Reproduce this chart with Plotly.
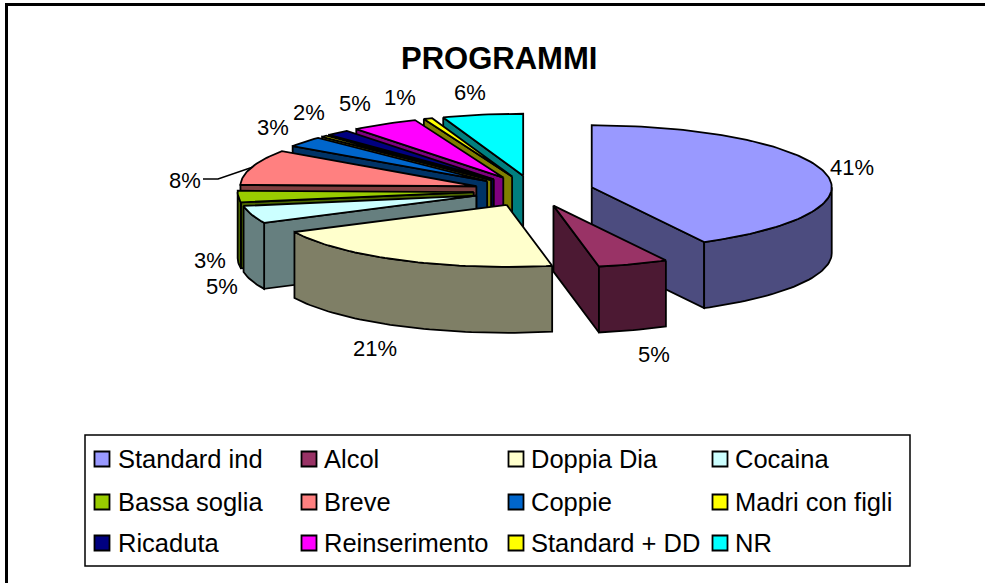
import math
import plotly.graph_objects as go

# ---- data ----
categories = ["Standard ind", "Alcol", "Doppia Dia", "Cocaina", "Bassa soglia", "Breve",
              "Coppie", "Madri con figli", "Ricaduta", "Reinserimento", "Standard + DD", "NR"]
values = [41.4, 5.0, 20.7, 5.0, 3.2, 8.49, 3.49, 0.4, 1.6, 4.6, 0.6, 5.5]
pct_labels = ["41%", "5%", "21%", "5%", "3%", "8%", "3%", "", "2%", "5%", "1%", "6%"]
top_colors = ["#9999FF", "#993366", "#FFFFCC", "#CCFFFF", "#99CC00", "#FF8080",
              "#0066CC", "#FFFF00", "#000080", "#FF00FF", "#FFFF00", "#00FFFF"]
side_colors = ["#4C4C7F", "#4C1933", "#7F7F66", "#667F7F", "#4C6600", "#7F4040",
               "#003366", "#7F7F00", "#000040", "#7F007F", "#7F7F00", "#007F7F"]
title_text = "PROGRAMMI"

# ---- layout (pixel-like axis space) ----
W, H = 985, 583
CX, CY = 533.5, 191
RX_RIGHT, RX_LEFT, RY = 240, 236, 62
DEPTH = 66
EXPLODE = 0.25
LINE = dict(color="black", width=1.8)
# small angular correction imitating the 3-D perspective of the original
WARP = [(0, 0), (90, 0), (149, 3), (167, 2), (241, 2.5), (270, 0), (304, 3), (314, 0), (360, 0)]

label_xy = [(852, 167), (654, 354), (375, 348), (222, 286), (210, 260), (185, 180),
            (273, 127), None, (309, 112), (355, 103), (400, 97), (470, 92)]
legend_cols = [(102, 116), (309, 322), (516, 529), (720, 733)]
legend_rows = [459, 502, 543]

fig = go.Figure()


def warp(t):
    for (a, wa), (b, wb) in zip(WARP, WARP[1:]):
        if a <= t <= b:
            return t + wa + (wb - wa) * (t - a) / (b - a)
    return t


def px_of(cx, cy, t):
    s = math.sin(math.radians(t))
    rx = RX_RIGHT if s >= 0 else RX_LEFT
    return cx + rx * s, cy - RY * math.cos(math.radians(t))


def poly(xs, ys, color):
    fig.add_trace(go.Scatter(x=xs + xs[:1], y=ys + ys[:1], mode="lines", fill="toself",
                             fillcolor=color, line=LINE, showlegend=False, hoverinfo="skip"))


def arc(cx, cy, a, b):
    n = max(2, int(abs(b - a) / 1.5) + 2)
    pts = [px_of(cx, cy, a + (b - a) * i / (n - 1)) for i in range(n)]
    return [p[0] for p in pts], [p[1] for p in pts]


total = sum(values)
slices = []
cum = 0.0
for i, v in enumerate(values):
    a = warp(cum / total * 360)
    cum += v
    b = warp(cum / total * 360)
    slices.append((i, a, b, (a + b) / 2))

# back-to-front painting order
for i, a, b, mid in sorted(slices, key=lambda s: -math.cos(math.radians(s[3]))):
    m = math.radians(mid)
    cx = CX + EXPLODE * RX_RIGHT * math.sin(m)
    cy = CY - EXPLODE * RY * math.cos(m)
    side = side_colors[i]
    if 180 <= a <= 360:
        x0, y0 = px_of(cx, cy, a)
        poly([cx, x0, x0, cx], [cy, y0, y0 + DEPTH, cy + DEPTH], side)
    if 0 <= b <= 180:
        x0, y0 = px_of(cx, cy, b)
        poly([cx, x0, x0, cx], [cy, y0, y0 + DEPTH, cy + DEPTH], side)
    lo, hi = max(a, 90), min(b, 270)
    if lo < hi:
        x, y = arc(cx, cy, lo, hi)
        poly(x + x[::-1], y + [v + DEPTH for v in y[::-1]], side)
    x, y = arc(cx, cy, a, b)
    poly([cx] + x, [cy] + y, top_colors[i])

annotations = [dict(x=499, y=58, text="<b>%s</b>" % title_text, showarrow=False,
                    font=dict(size=31, family="Liberation Sans", color="black"),
                    xanchor="center", yanchor="middle")]

for txt, xy in zip(pct_labels, label_xy):
    if xy:
        annotations.append(dict(x=xy[0], y=xy[1], text=txt, showarrow=False,
                                font=dict(size=22, family="Liberation Sans", color="black"),
                                xanchor="center", yanchor="middle"))

shapes = [
    dict(type="path", path="M 6.5 583 L 6.5 4.5 L 985 4.5", line=dict(color="black", width=3), layer="below"),
    dict(type="rect", x0=85, y0=435, x1=910, y1=566, line=dict(color="black", width=1.5), layer="below"),
    dict(type="path", path="M 203 179 L 218 179 L 253 167", line=dict(color="black", width=1.5)),
]

for idx, name in enumerate(categories):
    r, c = idx // 4, idx % 4
    mx, tx = legend_cols[c]
    y = legend_rows[r]
    shapes.append(dict(type="rect", x0=mx - 7.5, x1=mx + 7.5, y0=y - 7.5, y1=y + 7.5,
                       fillcolor=top_colors[idx], line=dict(color="black", width=1.8)))
    annotations.append(dict(x=tx, y=y, text=name, showarrow=False,
                            font=dict(size=25.5, family="Liberation Sans", color="black"),
                            xanchor="left", yanchor="middle"))

fig.update_layout(
    width=W, height=H, margin=dict(l=0, r=0, t=0, b=0),
    paper_bgcolor="white", plot_bgcolor="white", showlegend=False,
    xaxis=dict(range=[0, W], visible=False, fixedrange=True),
    yaxis=dict(range=[H, 0], visible=False, fixedrange=True),
    shapes=shapes, annotations=annotations,
)
fig.write_html("out.html", config=dict(displayModeBar=False),
               post_script="document.body.style.margin='0';document.documentElement.style.overflow='hidden';")
